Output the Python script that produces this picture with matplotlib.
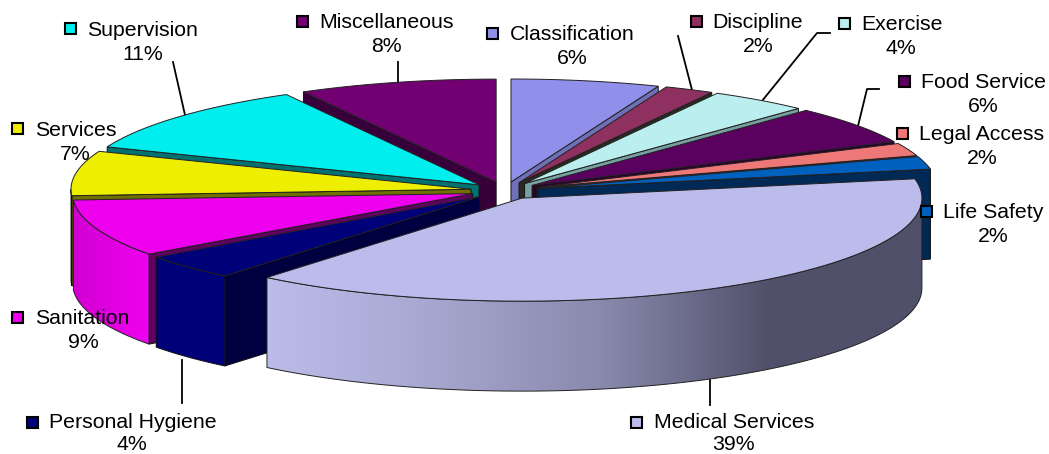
import numpy as np
import matplotlib
matplotlib.use("Agg")
import matplotlib.pyplot as plt
from matplotlib.colors import to_rgb
from matplotlib.patches import Polygon, Rectangle

# Slices, clockwise from twelve o'clock
categories = ["Classification", "Discipline", "Exercise", "Food Service", "Legal Access",
              "Life Safety", "Medical Services", "Personal Hygiene", "Sanitation",
              "Services", "Supervision", "Miscellaneous"]
shares = [6, 2, 4, 6, 2, 2, 39, 4, 9, 7, 11, 8]

top_colors = ["#9090EA", "#8E3060", "#BBEEEE", "#5A005F", "#EE7777", "#0060BE",
              "#BCBCEC", "#000078", "#EE00EE", "#EEEE00", "#00EEEE", "#720072"]
cut_colors = ["#7070B8", "#2A2A20", "#78A0A0", "#2D0030", "#5A2A2A", "#002A55",
              "#50506A", "#000040", "#600060", "#707000", "#007070", "#38003A"]

# Pie geometry, in pixels
CX, CY = 504.6, 190.6
RX, RY = 400.0, 103.0
EXPLODE = 34.0
DEPTH = 90.0

# Label layout: key centre, text start, line y, percent centre
label_pos = {
    "Classification": (492, 33, 510, 34, 572, 59),
    "Discipline": (696, 21, 712, 23, 758, 47),
    "Exercise": (844, 23, 861, 24, 901, 48),
    "Food Service": (904, 81, 921, 82, 983, 107),
    "Legal Access": (902, 133, 919, 134, 982, 159),
    "Life Safety": (926, 211, 943, 212, 993, 237),
    "Medical Services": (636, 422, 654, 423, 733, 445),
    "Personal Hygiene": (32, 422, 49, 423, 132, 445),
    "Sanitation": (17, 317, 35, 318, 83, 343),
    "Services": (17, 128, 35, 130, 75, 155),
    "Supervision": (70, 28, 87, 30, 143, 55),
    "Miscellaneous": (302, 21, 319, 23, 386, 47),
}

leaders = [
    [(173, 62), (185, 115)],
    [(398, 62), (398, 82)],
    [(678, 36), (692, 90)],
    [(830, 33), (817, 33), (762, 101)],
    [(879, 89), (867, 89), (858, 126)],
    [(182, 360), (182, 403)],
    [(710, 380), (710, 405)],
]

plt.rcParams["font.family"] = "Liberation Sans"
fig = plt.figure(figsize=(10.49, 4.54), dpi=100)
ax = fig.add_axes([0, 0, 1, 1])
ax.set_xlim(0, 1049)
ax.set_ylim(454, 0)
ax.axis("off")


def rim(ox, oy, a0, a1, drop=0.0):
    a = np.radians(np.linspace(a0, a1, max(int(abs(a1 - a0) * 2), 2)))
    return np.column_stack([ox + RX * np.sin(a), oy - RY * np.cos(a) + drop])


def gradient_wall(poly, stops, z):
    # horizontal shading clipped to the outer wall
    x0, x1 = poly[:, 0].min(), poly[:, 0].max()
    y0, y1 = poly[:, 1].min(), poly[:, 1].max()
    xs = np.linspace(x0, x1, 512)
    stop_x = [s[0] for s in stops]
    rgb = np.array([to_rgb(s[1]) for s in stops])
    img = np.stack([np.interp(xs, stop_x, rgb[:, k]) for k in range(3)], axis=-1)[None, :, :]
    im = ax.imshow(img, extent=(x0, x1, y1, y0), aspect="auto", zorder=z, interpolation="bilinear")
    patch = Polygon(poly, closed=True, transform=ax.transData, fc="none", ec="none")
    ax.add_patch(patch)
    im.set_clip_path(patch)
    ax.add_patch(Polygon(poly, closed=True, fc="none", ec="#222222", lw=0.7, zorder=z))


for pts in leaders:
    xs, ys = zip(*pts)
    ax.plot(xs, ys, color="black", lw=1.3, zorder=1)

edges = np.cumsum([0] + shares) * 3.6
slices = []
for i in range(len(shares)):
    mid = np.radians((edges[i] + edges[i + 1]) / 2)
    slices.append((np.cos(mid), i))

# far slices first so nearer ones paint over them
for order, (_, i) in enumerate(sorted(slices, reverse=True)):
    z = 2 + order
    a0, a1 = edges[i], edges[i + 1]
    mid = np.radians((a0 + a1) / 2)
    ox = CX + EXPLODE * np.sin(mid)
    oy = CY - EXPLODE * RY / RX * np.cos(mid)

    # radial cut faces turned towards the viewer
    for a, visible in ((a0, np.sin(np.radians(a0)) < -1e-6), (a1, np.sin(np.radians(a1)) > 1e-6)):
        if visible:
            p = rim(ox, oy, a, a + 0.01)[0]
            face = [(ox, oy), tuple(p), (p[0], p[1] + DEPTH), (ox, oy + DEPTH)]
            ax.add_patch(Polygon(face, closed=True, fc=cut_colors[i], ec="#111111", lw=0.7, zorder=z))

    # outer wall on the near half of the rim
    w0, w1 = max(a0, 90), min(a1, 270)
    if w1 > w0:
        upper = rim(ox, oy, w0, w1)
        lower = rim(ox, oy, w0, w1, DEPTH)
        poly = np.vstack([upper, lower[::-1]])
        if categories[i] == "Medical Services":
            gradient_wall(poly, [(258, "#BDBDEB"), (400, "#ABABD6"), (600, "#8A8AAE"),
                                 (770, "#50506A"), (925, "#50506A")], z)
        elif categories[i] == "Sanitation":
            gradient_wall(poly, [(70, "#D000D0"), (150, "#F000F0")], z)
        else:
            ax.add_patch(Polygon(poly, closed=True, fc=top_colors[i], ec="#111111", lw=0.7, zorder=z))

    top = np.vstack([[(ox, oy)], rim(ox, oy, a0, a1)])
    ax.add_patch(Polygon(top, closed=True, fc=top_colors[i], ec="#222222", lw=0.7, zorder=z))

for i, name in enumerate(categories):
    kx, ky, tx, ty, px, py = label_pos[name]
    ax.add_patch(Rectangle((kx - 5.5, ky - 5.5), 11, 11, fc=top_colors[i], ec="black", lw=1.5, zorder=40))
    ax.text(tx, ty, name, fontsize=15.3, ha="left", va="center", color="black", zorder=41)
    ax.text(px, py, f"{shares[i]}%", fontsize=15.3, ha="center", va="center", color="black", zorder=41)

ax.set_xlim(0, 1049)
ax.set_ylim(454, 0)
fig.savefig("out.png", dpi=100, facecolor="white")
